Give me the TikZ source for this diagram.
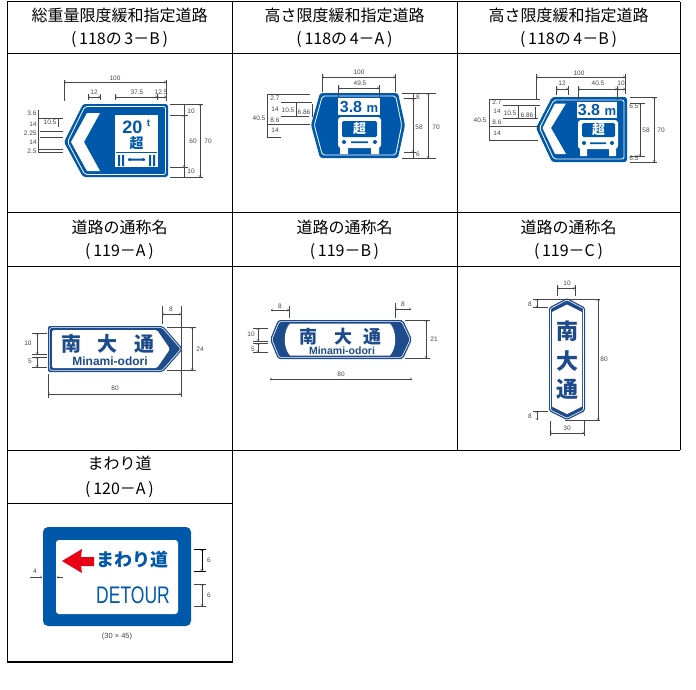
\documentclass[tikz,border=0pt]{standalone}
\usepackage{fontspec}
\setmainfont{Liberation Sans}
\newfontfamily\cjk{Noto Sans CJK JP}
\usetikzlibrary{arrows.meta}
\definecolor{signblue}{RGB}{0,88,170}
\definecolor{namenavy}{RGB}{30,75,140}
\definecolor{arrowred}{RGB}{232,0,20}
\definecolor{dimgray}{RGB}{70,70,70}

\begin{document}
\begin{tikzpicture}[x=1pt,y=-1pt,
  tabline/.style={line width=0.9pt},
  head/.style={font=\cjk\fontsize{16}{16}\selectfont, inner sep=0pt},
  dimln/.style={draw=dimgray, line width=0.35pt},
  dimarr/.style={dimln, {Straight Barb[length=1.6pt,width=2.6pt]}-{Straight Barb[length=1.6pt,width=2.6pt]}},
  dimtext/.style={font=\fontsize{6.5}{6.5}\selectfont, text=dimgray, inner sep=0.3pt},
  kanji/.style={font=\cjk\bfseries\fontsize{#1}{#1}\selectfont, inner sep=0pt},
  latinb/.style={font=\bfseries\fontsize{#1}{#1}\selectfont, inner sep=0pt}]
  \useasboundingbox (0,0) rectangle (696,689);

  % table
  \draw[tabline] (7,1.5) -- (680,1.5) (7,53) -- (680,53) (7,212) -- (680,212)
    (7,266) -- (680,266) (7,450) -- (680,450) (7,503) -- (232,503);
  \draw[tabline] (7,1.5) -- (7,662) (232,1.5) -- (232,662) (457,1.5) -- (457,450) (680,1.5) -- (680,450);
  \draw[line width=1.6pt] (6.5,662) -- (232.5,662);

  \node[head] (h1t) at (119.5,15) {総重量限度緩和指定道路};
  \node[head] (h1c) at (119.5,40) {(\,118の\,3－B\,)};
  \node[head] (h2t) at (344.5,15) {高さ限度緩和指定道路};
  \node[head] (h2c) at (344.5,40) {(\,118の\,4－A\,)};
  \node[head] (h3t) at (568.5,15) {高さ限度緩和指定道路};
  \node[head] (h3c) at (568.5,40) {(\,118の\,4－B\,)};
  \node[head] (h4t) at (119.5,227) {道路の通称名};
  \node[head] (h4c) at (119.5,252) {(\,119－A\,)};
  \node[head] (h5t) at (344.5,227) {道路の通称名};
  \node[head] (h5c) at (344.5,252) {(\,119－B\,)};
  \node[head] (h6t) at (568.5,227) {道路の通称名};
  \node[head] (h6c) at (568.5,252) {(\,119－C\,)};
  \node[head] (h7t) at (119.5,463) {まわり道};
  \node[head] (h7c) at (119.5,490) {(\,120－A\,)};

  % 118の3-B
  \fill[signblue, rounded corners=2.5] (64,142) -- (83,104) -- (168,104) -- (168,177) -- (83,177) -- cycle;
  \draw[white, line width=0.8pt, rounded corners=2] (67.5,142) -- (84.8,106.5) -- (165.5,106.5) -- (165.5,174.5) -- (84.8,174.5) -- cycle;
  \fill[white] (87,113) -- (100,113) -- (84,142) -- (100,171) -- (87,171) -- (71,142) -- cycle;
  \fill[white] (115,115) rectangle (158,167);
  \node[latinb=18, text=signblue] (wt1) at (132.5,127) {20};
  \node[latinb=10, text=signblue] (tt1) at (148.5,123) {t};
  \node[kanji=14, text=signblue] (ko1) at (136.5,143) {超};
  \draw[signblue, line width=0.5pt] (116,152) -- (157,152);
  \fill[signblue] (118,155) rectangle (120,166) (122,155) rectangle (124,166)
    (149,155) rectangle (151,166) (153,155) rectangle (155,166) (128,158.5) rectangle (145,160.5);
  \fill[signblue] (130,159.5) circle (1.6) (143,159.5) circle (1.6);

  \draw[dimln] (64,80) -- (64,101) (166,80) -- (166,101);
  \draw[dimarr] (64,82) -- (166,82);
  \node[dimtext] at (115,78) {100};
  \draw[dimln] (88,94) -- (88,100) (100,94) -- (100,100) (115,94) -- (115,100) (157,94) -- (157,100);
  \draw[dimarr] (88,97) -- (100,97);
  \draw[dimarr] (115,97) -- (157,97);
  \draw[dimarr] (157,97) -- (166,97);
  \node[dimtext] at (94,92) {12};
  \node[dimtext] at (137,92) {37.5};
  \node[dimtext] at (161,92) {12.5};
  \draw[dimln] (170,104) -- (203,104) (170,115) -- (188,115) (170,167) -- (188,167) (170,177) -- (203,177);
  \draw[dimarr] (184,115) -- (184,167);
  \draw[dimln] (184,104) -- (184,115) (184,167) -- (184,177);
  \draw[dimarr] (200,104) -- (200,177);
  \node[dimtext] at (191,111) {10};
  \node[dimtext] at (193,141) {60};
  \node[dimtext] at (208,141) {70};
  \node[dimtext] at (191,171) {10};
  \draw[dimln] (38,110) -- (38,153) (38,118) -- (63,118) (38,149) -- (63,149) (38,152) -- (63,152)
    (40,131) -- (63,131) (40,137) -- (63,137) (58,118) -- (58,127);
  \node[dimtext, anchor=east] at (37,113) {3.6};
  \node[dimtext, anchor=east] at (37,124) {14};
  \node[dimtext, anchor=east] at (37,133) {2.25};
  \node[dimtext, anchor=east] at (37,142) {14};
  \node[dimtext, anchor=east] at (37,151) {2.5};
  \node[dimtext] at (50,122) {10.5};

  % 118の4-A
  \fill[signblue, rounded corners=2.5] (311,125) -- (320,93) -- (398,93) -- (405,125) -- (398,158) -- (320,158) -- cycle;
  \draw[white, line width=0.8pt, rounded corners=2] (314.3,125) -- (322.3,96) -- (395.7,96) -- (401.7,125) -- (395.7,155) -- (322.3,155) -- cycle;
  \fill[white] (338,98) rectangle (380,115);
  \node[inner sep=0pt, text=signblue] (hm2) at (359,107) {{\fontsize{16}{16}\selectfont\bfseries 3.8 }{\fontsize{13}{13}\selectfont\bfseries m}};
  \fill[white, rounded corners=3] (338,117) rectangle (381,148);
  \fill[signblue, rounded corners=1.5] (342,121) rectangle (377,137);
  \node[kanji=13, text=white] (ko2) at (359.5,129) {超};
  \fill[signblue] (344,142) circle (2) (375,142) circle (2) (351,141.3) rectangle (368,143);
  \fill[white] (340,147) rectangle (348,154) (371,147) rectangle (379,154);

  \draw[dimln] (322,74) -- (322,92) (395,74) -- (395,92);
  \draw[dimarr] (322,77) -- (395,77);
  \node[dimtext] at (359,72) {100};
  \draw[dimln] (338,85) -- (338,97) (379,85) -- (379,97);
  \draw[dimarr] (338,88) -- (379,88);
  \node[dimtext] at (360,83) {49.5};
  \draw[dimln] (402,93) -- (436,93) (404,98) -- (416,98) (404,152) -- (416,152) (402,158) -- (436,158);
  \draw[dimarr] (413,98) -- (413,152);
  \draw[dimln] (413,93) -- (413,98) (413,152) -- (413,158);
  \draw[dimarr] (428,93) -- (428,158);
  \node[dimtext] at (418,97) {8};
  \node[dimtext] at (419,127) {58};
  \node[dimtext] at (436,127) {70};
  \node[dimtext] at (418,154) {6};
  \draw[dimln] (267,94) -- (267,137) (267,94) -- (310,94) (281,102) -- (312,102) (281,116) -- (309,116)
    (267,124) -- (310,124) (267,137) -- (281,137) (296,102) -- (296,116) (312,104) -- (312,117);
  \node[dimtext] at (275,98) {2.7};
  \node[dimtext] at (275,109) {14};
  \node[dimtext] at (275,120) {8.6};
  \node[dimtext] at (275,130.5) {14};
  \node[dimtext] at (259,118) {40.5};
  \node[dimtext] at (288,110) {10.5};
  \node[dimtext] at (304,112) {6.86};

  % 118の4-B
  \fill[signblue, rounded corners=2.5] (536,128) -- (552,97) -- (627,97) -- (627,162) -- (552,162) -- cycle;
  \draw[white, line width=0.8pt, rounded corners=2] (539.5,128) -- (553.8,100) -- (624,100) -- (624,159) -- (553.8,159) -- cycle;
  \fill[white] (555,103.5) -- (566,103.5) -- (551,128) -- (566,154) -- (555,154) -- (542.5,128) -- cycle;
  \fill[white] (577,102) rectangle (617,118);
  \node[inner sep=0pt, text=signblue] (hm3) at (597,110) {{\fontsize{16}{16}\selectfont\bfseries 3.8 }{\fontsize{13}{13}\selectfont\bfseries m}};
  \fill[white, rounded corners=3] (578,120) rectangle (618,149);
  \fill[signblue, rounded corners=1.5] (582,123) rectangle (615,137);
  \node[kanji=13, text=white] (ko3) at (598.5,130) {超};
  \fill[signblue] (584,143) circle (2) (612,143) circle (2) (590,142.3) rectangle (606,144);
  \fill[white] (580,148) rectangle (587,156) (609,148) rectangle (616,156);

  \draw[dimln] (536,74) -- (536,100) (625,74) -- (625,94);
  \draw[dimarr] (536,77) -- (625,77);
  \node[dimtext] at (579,73) {100};
  \draw[dimln] (556,86) -- (556,95) (568,86) -- (568,95) (578,86) -- (578,100) (617,86) -- (617,100);
  \draw[dimarr] (556,89) -- (568,89);
  \draw[dimarr] (578,89) -- (617,89);
  \draw[dimarr] (617,89) -- (625,89);
  \node[dimtext] at (562,83) {12};
  \node[dimtext] at (598,83) {40.5};
  \node[dimtext] at (621,83) {10};
  \draw[dimln] (630,97) -- (657,97) (630,103) -- (645,103) (630,156) -- (645,156) (630,162) -- (657,162);
  \draw[dimarr] (640,103) -- (640,156);
  \draw[dimarr] (654,97) -- (654,162);
  \node[dimtext] at (634,106) {6.5};
  \node[dimtext] at (646,130) {58};
  \node[dimtext] at (661,130) {70};
  \node[dimtext] at (634,158) {6.5};
  \draw[dimln] (489,99) -- (489,140) (489,99) -- (540,99) (503,105) -- (540,105) (503,118) -- (538,118)
    (489,126) -- (540,126) (489,140) -- (538,140) (518,105) -- (518,118) (535,107) -- (535,119);
  \node[dimtext] at (497,102) {2.7};
  \node[dimtext] at (497,111.5) {14};
  \node[dimtext] at (497,122) {8.6};
  \node[dimtext] at (497,133) {14};
  \node[dimtext] at (480,120) {40.5};
  \node[dimtext] at (510,113) {10.5};
  \node[dimtext] at (527,115) {6.86};

  % 119-A
  \fill[namenavy, rounded corners=2] (48,326) -- (163,326) -- (183,349) -- (163,372) -- (48,372) -- cycle;
  \draw[white, line width=0.6pt, rounded corners=1.5] (49.6,327.6) -- (162.3,327.6) -- (181,349) -- (162.3,370.4) -- (49.6,370.4) -- cycle;
  \fill[white, rounded corners=1.5] (52,330) -- (157,330) -- (170,349) -- (157,368) -- (52,368) -- cycle;
  \node[kanji=20, text=namenavy] (na4) at (71.5,344) {南};
  \node[kanji=20, text=namenavy] (oo4) at (107.5,344) {大};
  \node[kanji=20, text=namenavy] (to4) at (144,344) {通};
  \node[latinb=12, text=namenavy] (mo4) at (110,361) {Minami-odori};

  \draw[dimln] (162,306) -- (162,324) (181,306) -- (181,397);
  \draw[dimarr] (162,314) -- (181,314);
  \node[dimtext] at (171,309) {8};
  \draw[dimln] (167,327) -- (196,327) (167,370) -- (196,370);
  \draw[dimarr] (192,327) -- (192,370);
  \node[dimtext] at (200,349) {24};
  \draw[dimln] (32,333) -- (47,333) (32,354) -- (47,354) (32,357) -- (47,357) (32,367) -- (47,367);
  \draw[dimarr] (37,333) -- (37,354);
  \draw[dimarr] (37,357) -- (37,367);
  \node[dimtext] at (28,343) {10};
  \node[dimtext] at (30,361) {5};
  \draw[dimln] (48,374) -- (48,398);
  \draw[dimarr] (48,394) -- (181,394);
  \node[dimtext] at (115,388) {80};

  % 119-B
  \fill[namenavy, rounded corners=2] (270,339.5) -- (278,320) -- (403,320) -- (412,339.5) -- (403,359) -- (278,359) -- cycle;
  \draw[white, line width=0.6pt, rounded corners=1.5] (271.8,339.5) -- (279.2,321.6) -- (401.8,321.6) -- (410.2,339.5) -- (401.8,357.4) -- (279.2,357.4) -- cycle;
  \fill[white] (290,323.5) -- (390,323.5) .. controls (397,331) and (397,348) .. (390,355.5)
    -- (290,355.5) .. controls (283,348) and (283,331) .. (290,323.5) -- cycle;
  \node[kanji=18, text=namenavy] (na5) at (308,337) {南};
  \node[kanji=18, text=namenavy] (oo5) at (343,337) {大};
  \node[kanji=18, text=namenavy] (to5) at (372,337) {通};
  \node[latinb=10.5, text=namenavy] (mo5) at (342,350.5) {Minami-odori};

  \draw[dimln] (289,306) -- (289,318) (395,303) -- (395,318);
  \draw[dimarr] (271,310) -- (289,310);
  \draw[dimarr] (395,309) -- (411,309);
  \node[dimtext, fill=white] at (280,306) {8};
  \node[dimtext, fill=white] at (403,304) {8};
  \draw[dimln] (405,320) -- (430,320) (405,358) -- (430,358);
  \draw[dimarr] (426,320) -- (426,358);
  \node[dimtext] at (434,339) {21};
  \draw[dimln] (253,328) -- (268,328) (253,341) -- (268,341) (253,343) -- (268,343) (253,352) -- (268,352);
  \draw[dimarr] (258,328) -- (258,341);
  \draw[dimarr] (258,343) -- (258,352);
  \node[dimtext] at (251,334) {10};
  \node[dimtext] at (253,349) {5};
  \draw[dimarr] (270,379) -- (412,379);
  \node[dimtext] at (341,374) {80};

  % 119-C
  \fill[namenavy, rounded corners=1.5] (567,298) -- (585,307.5) -- (585,411) -- (567,420) -- (549,411) -- (549,307.5) -- cycle;
  \draw[white, line width=0.6pt, rounded corners=1] (567,299.9) -- (583.5,308.5) -- (583.5,410) -- (567,418.2) -- (550.5,410) -- (550.5,308.5) -- cycle;
  \fill[white] (567,304.5) -- (582,312) -- (582,406.5) -- (567,414) -- (552,406.5) -- (552,312) -- cycle;
  \node[kanji=22, text=namenavy] (na6) at (567,331) {南};
  \node[kanji=22, text=namenavy] (oo6) at (567,361) {大};
  \node[kanji=22, text=namenavy] (to6) at (567,389) {通};

  \draw[dimln] (557,285) -- (557,296) (575,285) -- (575,296);
  \draw[dimarr] (557,288) -- (575,288);
  \node[dimtext] at (567,283) {10};
  \draw[dimln] (533,299) -- (600,299) (533,307.5) -- (548,307.5);
  \draw[dimarr] (537,299) -- (537,307.5);
  \node[dimtext] at (530,304) {8};
  \draw[dimarr] (598,299) -- (598,420);
  \node[dimtext, fill=white] at (604,359) {80};
  \draw[dimln] (533,411) -- (548,411) (565,420) -- (600,420);
  \draw[dimarr] (537,411) -- (537,420);
  \node[dimtext] at (530,416) {8};
  \draw[dimln] (550,421) -- (550,436) (584,421) -- (584,436);
  \draw[dimarr] (550,433) -- (584,433);
  \node[dimtext] at (567,428) {30};

  % 120-A
  \fill[signblue, rounded corners=5] (43,527) rectangle (191,626);
  \fill[white, rounded corners=3] (56,540) rectangle (178,614);
  \fill[arrowred] (62,561) -- (82,549) -- (81,557) -- (94,557) -- (94,566) -- (81,566) -- (82,573) -- cycle;
  \node[kanji=18, text=signblue] (mw7) at (132,560) {まわり道};
  \node[text=signblue, inner sep=0pt] (dt7) at (133,595) {\scalebox{0.73}[1]{\fontsize{24}{24}\selectfont DETOUR}};

  \draw[dimln, -{Straight Barb[length=1.6pt,width=2.6pt]}] (30,577) -- (42,577);
  \draw[dimln, -{Straight Barb[length=1.6pt,width=2.6pt]}] (63,577) -- (57,577);
  \node[dimtext] at (35,571) {4};
  \draw[black, line width=0.5pt] (194,549) -- (206,549) (194,571) -- (206,571);
  \draw[black, line width=0.5pt, {Straight Barb[length=1.6pt,width=2.6pt]}-{Straight Barb[length=1.6pt,width=2.6pt]}] (202,549) -- (202,571);
  \node[dimtext] at (209,560) {6};
  \draw[dimln] (194,584) -- (206,584) (194,606) -- (206,606);
  \draw[dimarr] (202,584) -- (202,606);
  \node[dimtext] at (209,595) {6};
  \node[font=\fontsize{7.5}{7.5}\selectfont, text=dimgray, inner sep=0pt] (sz7) at (117,637) {(30 × 45)};
\end{tikzpicture}
\end{document}
